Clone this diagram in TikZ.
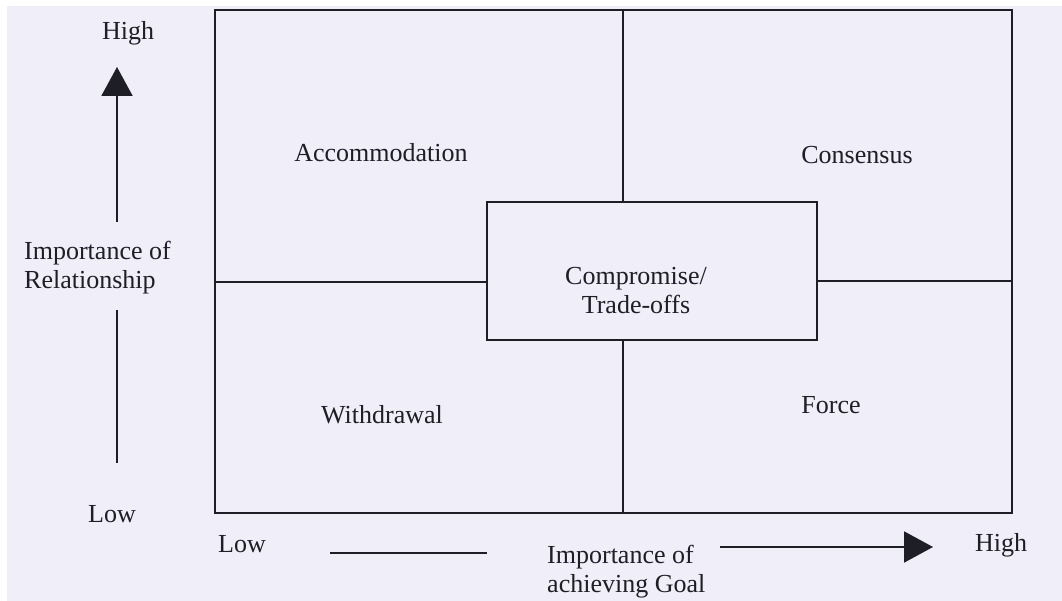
\documentclass[tikz,border=0pt]{standalone}
\usepackage{fontspec}
\setmainfont{Liberation Serif}
\usetikzlibrary{arrows.meta}
\definecolor{bgc}{RGB}{239,238,249}
\definecolor{ink}{RGB}{30,30,38}
\begin{document}
\begin{tikzpicture}[x=1pt,y=-1pt,
  frame/.style={draw=ink,line width=1.8pt},
  lbl/.style={inner sep=0pt,text=ink,font=\fontsize{26}{29}\selectfont},
  axisline/.style={draw=ink,line width=2pt},
  axisarrow/.style={axisline,-{Triangle[length=29pt,width=31pt]}}]
\useasboundingbox (0,0) rectangle (1062,601);
\fill[white] (0,0) rectangle (1062,601);
\fill[bgc] (7,6) rectangle (1062,601);
% outer matrix
\node[frame,minimum width=797pt,minimum height=503pt,inner sep=0pt] (outer) at (613.5,261.5) {};
\node[frame,minimum width=330pt,minimum height=138pt,inner sep=0pt] (comp) at (652,271) {};
\coordinate (vtop) at (623,10);
\coordinate (vmid1) at (623,202);
\coordinate (vmid2) at (623,340);
\coordinate (vbot) at (623,513);
\coordinate (hleft) at (215,282);
\coordinate (hcl) at (487,282);
\coordinate (hcr) at (817,281);
\coordinate (hright) at (1012,281);
\draw[frame] (vtop) -- (vmid1);
\draw[frame] (vmid2) -- (vbot);
\draw[frame] (hleft) -- (hcl);
\draw[frame] (hcr) -- (hright);
% quadrant labels
\node[lbl,anchor=base] (acc) at (381,162) {Accommodation};
\node[lbl,anchor=base] (cons) at (857,164) {Consensus};
\node[lbl,anchor=base] (withd) at (382,423) {Withdrawal};
\node[lbl,anchor=base] (force) at (831,413) {Force};
\node[lbl,align=center] (comptext) at (636,291) {Compromise/\\Trade-offs};
% vertical axis
\node[lbl,anchor=base] (yhigh) at (128,40) {High};
\node[lbl,anchor=base] (ylow) at (112,522) {Low};
\node[lbl,anchor=base west,align=left] (ytitle) at (24,289) {Importance of\\Relationship};
\coordinate (ya1) at (117,222);
\coordinate (ya2) at (117,67);
\coordinate (yb1) at (117,310);
\coordinate (yb2) at (117,463);
\draw[axisarrow] (ya1) -- (ya2);
\draw[axisline] (yb1) -- (yb2);
% horizontal axis
\node[lbl,anchor=base] (xlow) at (242,552) {Low};
\node[lbl,anchor=base] (xhigh) at (1001,551) {High};
\node[lbl,anchor=base west,align=left] (xtitle) at (547,592) {Importance of\\achieving Goal};
\coordinate (xa1) at (330,553);
\coordinate (xa2) at (487,553);
\coordinate (xb1) at (720,547);
\coordinate (xb2) at (933,547);
\draw[axisline] (xa1) -- (xa2);
\draw[axisarrow] (xb1) -- (xb2);
\end{tikzpicture}
\end{document}
